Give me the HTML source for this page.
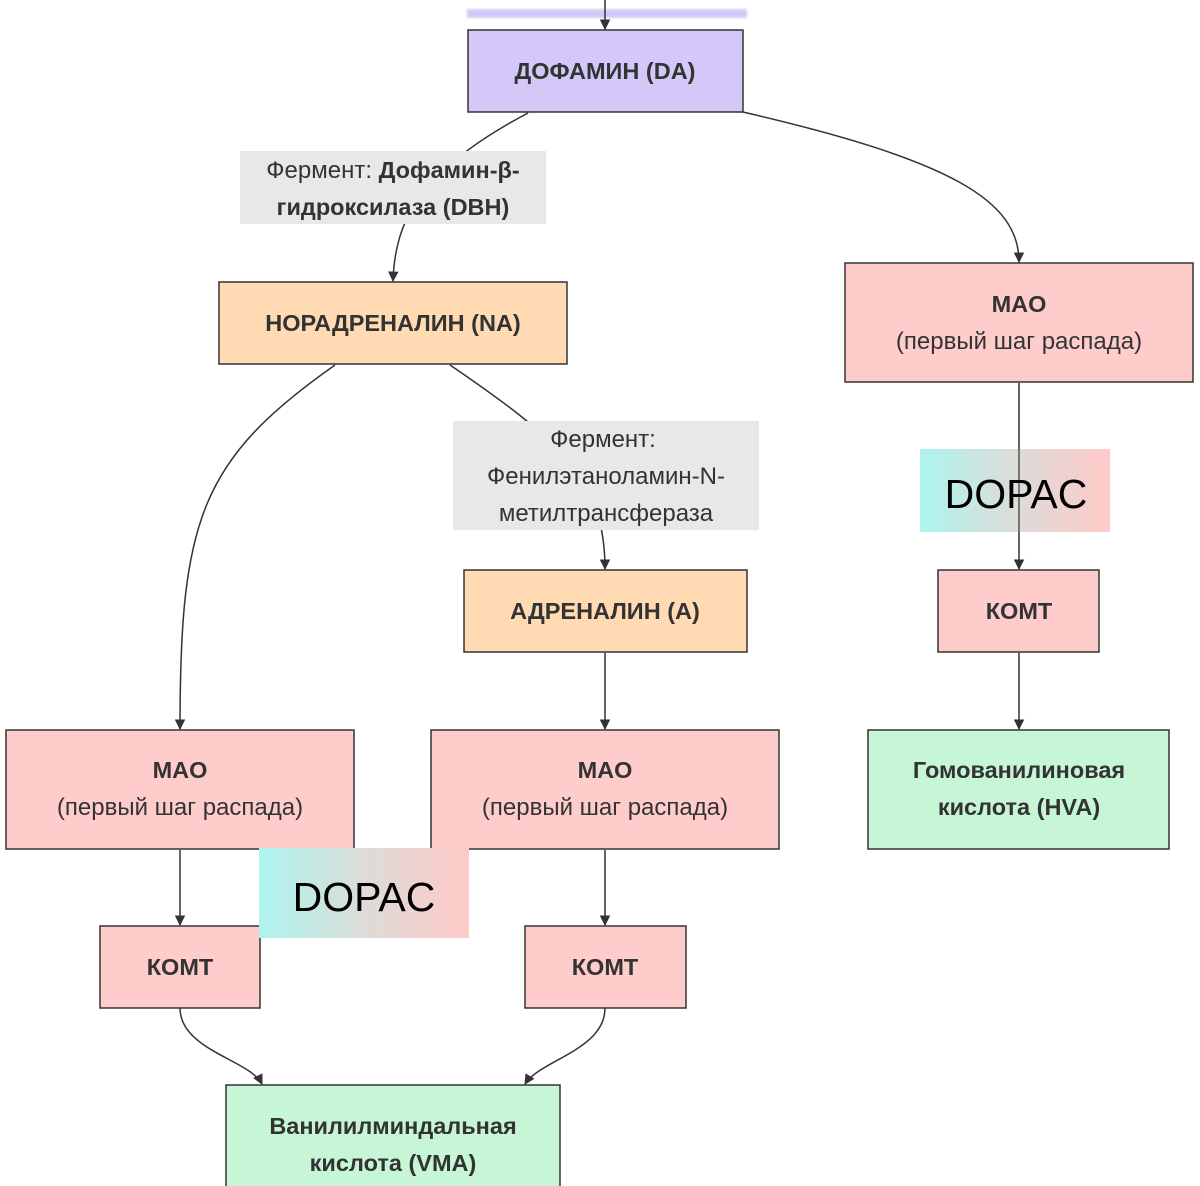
<!DOCTYPE html>
<html><head><meta charset="utf-8"><style>
html,body{margin:0;padding:0;background:#fff;}
svg{display:block;}
text{font-family:"Liberation Sans",Arial,sans-serif;fill:#333;}
.b{font-weight:bold;font-size:23.5px;}
.r{font-size:24px;}
</style></head><body>
<svg width="1200" height="1186" viewBox="0 0 1200 1186" xmlns="http://www.w3.org/2000/svg">
<defs>
<marker id="ar" viewBox="0 0 10 10" refX="9" refY="5" markerWidth="7" markerHeight="7" orient="auto-start-reverse">
<path d="M0,0 L10,5 L0,10 z" fill="#333"/></marker>
<linearGradient id="g" x1="0" x2="1" y1="0" y2="0"><stop offset="0" stop-color="#aef4ee"/><stop offset="0.5" stop-color="#dcdcd8"/><stop offset="1" stop-color="#ffcac8"/></linearGradient>
<filter id="bl"><feGaussianBlur stdDeviation="1.2"/></filter>
</defs>
<rect x="467" y="9" width="280" height="9" fill="#d4c8f8" filter="url(#bl)"/>
<g fill="none" stroke="#333" stroke-width="1.5">
<path d="M605,0 L605,29" marker-end="url(#ar)"/>
<path d="M528,113 C420,170 395,220 393,281" marker-end="url(#ar)"/>
<path d="M743,112 C950,160 1019,200 1019,262" marker-end="url(#ar)"/>
<path d="M335,365 C200,460 180,520 180,729" marker-end="url(#ar)"/>
<path d="M450,365 C560,440 605,480 605,569" marker-end="url(#ar)"/>
<path d="M605,653 L605,729" marker-end="url(#ar)"/>
<path d="M180,850 L180,925" marker-end="url(#ar)"/>
<path d="M605,850 L605,925" marker-end="url(#ar)"/>
<path d="M1019,383 L1019,569" marker-end="url(#ar)"/>
<path d="M1019,653 L1019,729" marker-end="url(#ar)"/>
<path d="M180,1008 C180,1050 250,1060 262,1084" marker-end="url(#ar)"/>
<path d="M605,1008 C605,1050 540,1060 525,1084" marker-end="url(#ar)"/>
</g>
<rect x="240" y="151" width="306" height="73" fill="#e8e8e8"/>
<text x="393" y="178" text-anchor="middle" class="r">Фермент: <tspan class="b">Дофамин-β-</tspan></text>
<text x="393" y="215" text-anchor="middle" class="b">гидроксилаза (DBH)</text>
<rect x="453" y="421" width="306" height="109" fill="#e8e8e8"/>
<text x="603" y="447" text-anchor="middle" class="r">Фермент:</text>
<text x="606" y="484" text-anchor="middle" class="r">Фенилэтаноламин-N-</text>
<text x="606" y="521" text-anchor="middle" class="r">метилтрансфераза</text>
<g stroke="#333" stroke-width="1.5">
<rect x="468" y="30" width="275" height="82" fill="#d4c8f8"/>
<rect x="219" y="282" width="348" height="82" fill="#ffdab3"/>
<rect x="845" y="263" width="348" height="119" fill="#ffcccc"/>
<rect x="464" y="570" width="283" height="82" fill="#ffdab3"/>
<rect x="938" y="570" width="161" height="82" fill="#ffcccc"/>
<rect x="6" y="730" width="348" height="119" fill="#ffcccc"/>
<rect x="431" y="730" width="348" height="119" fill="#ffcccc"/>
<rect x="868" y="730" width="301" height="119" fill="#c6f6d5"/>
<rect x="100" y="926" width="160" height="82" fill="#ffcccc"/>
<rect x="525" y="926" width="161" height="82" fill="#ffcccc"/>
<rect x="226" y="1085" width="334" height="110" fill="#c6f6d5"/>
</g>
<rect x="920" y="449" width="190" height="83" fill="url(#g)"/>
<line x1="1019" y1="449" x2="1019" y2="532" stroke="#555" stroke-width="1.5"/>
<text x="1016" y="508" text-anchor="middle" style="font-size:41px;fill:#000">DOPAC</text>
<rect x="259" y="848" width="210" height="90" fill="url(#g)"/>
<text x="364" y="911" text-anchor="middle" style="font-size:41px;fill:#000">DOPAC</text>
<text x="605" y="79" text-anchor="middle" class="b">ДОФАМИН (DA)</text>
<text x="393" y="331" text-anchor="middle" class="b">НОРАДРЕНАЛИН (NA)</text>
<text x="1019" y="312" text-anchor="middle" class="b">MAO</text>
<text x="1019" y="349" text-anchor="middle" class="r">(первый шаг распада)</text>
<text x="605" y="619" text-anchor="middle" class="b">АДРЕНАЛИН (A)</text>
<text x="1019" y="619" text-anchor="middle" class="b">КОМТ</text>
<text x="180" y="778" text-anchor="middle" class="b">MAO</text>
<text x="180" y="815" text-anchor="middle" class="r">(первый шаг распада)</text>
<text x="605" y="778" text-anchor="middle" class="b">MAO</text>
<text x="605" y="815" text-anchor="middle" class="r">(первый шаг распада)</text>
<text x="1019" y="778" text-anchor="middle" class="b">Гомованилиновая</text>
<text x="1019" y="815" text-anchor="middle" class="b">кислота (HVA)</text>
<text x="180" y="975" text-anchor="middle" class="b">КОМТ</text>
<text x="605" y="975" text-anchor="middle" class="b">КОМТ</text>
<text x="393" y="1134" text-anchor="middle" class="b">Ванилилминдальная</text>
<text x="393" y="1171" text-anchor="middle" class="b">кислота (VMA)</text>
</svg>
</body></html>
